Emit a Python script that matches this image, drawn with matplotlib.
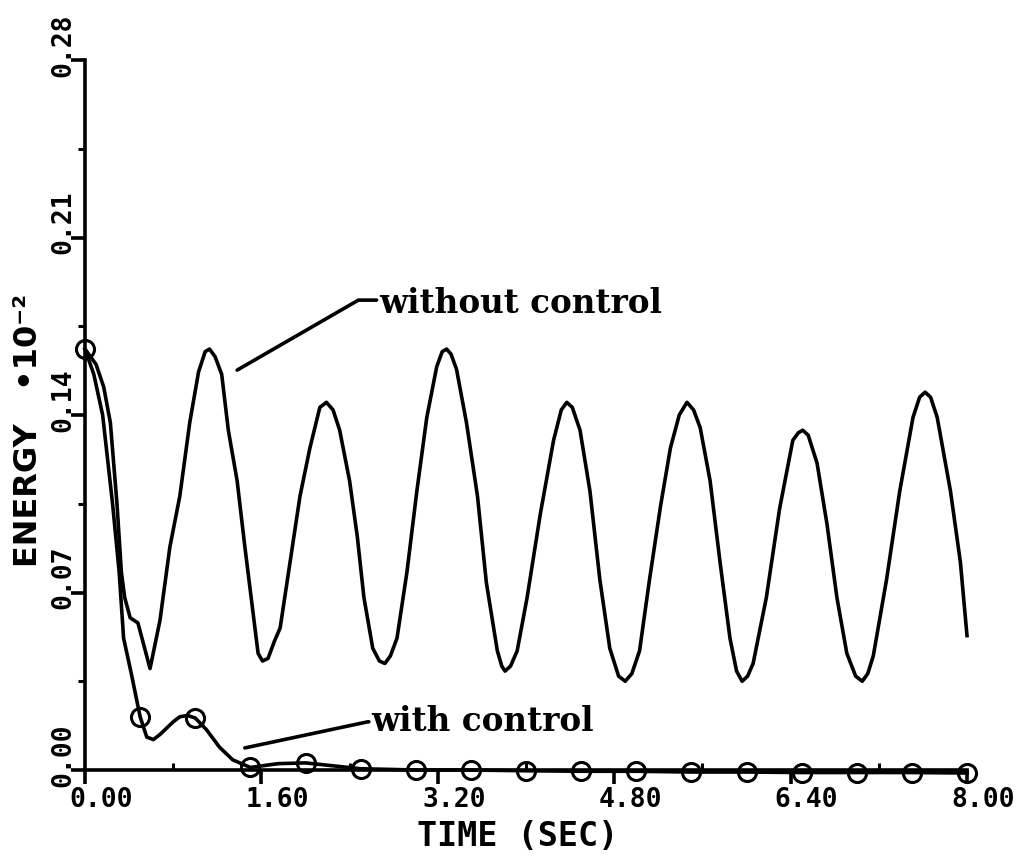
import matplotlib
matplotlib.use("Agg")
import matplotlib.pyplot as plt
import matplotlib.transforms as mtransforms

# ---- data -------------------------------------------------------------
# response without control (time in s, energy * 1e-2)
t_free = [0.00, 0.10, 0.17, 0.23, 0.29, 0.33, 0.36, 0.41, 0.48, 0.59,
          0.68, 0.77, 0.86, 0.95, 1.03, 1.09, 1.13, 1.18, 1.24, 1.30,
          1.38, 1.45, 1.53, 1.57, 1.61, 1.66, 1.72, 1.77, 1.86, 1.95,
          2.04, 2.13, 2.19, 2.25, 2.31, 2.40, 2.47, 2.53, 2.61, 2.67,
          2.72, 2.77, 2.83, 2.92, 3.01, 3.10, 3.19, 3.24, 3.28, 3.32,
          3.37, 3.46, 3.56, 3.64, 3.74, 3.78, 3.81, 3.86, 3.92, 4.01,
          4.13, 4.25, 4.32, 4.37, 4.42, 4.49, 4.58, 4.67, 4.76, 4.84,
          4.90, 4.96, 5.03, 5.12, 5.22, 5.31, 5.39, 5.46, 5.52, 5.58,
          5.67, 5.76, 5.85, 5.91, 5.96, 6.01, 6.06, 6.18, 6.30, 6.42,
          6.47, 6.51, 6.56, 6.64, 6.73, 6.82, 6.91, 6.99, 7.05, 7.10,
          7.15, 7.27, 7.39, 7.51, 7.57, 7.62, 7.67, 7.73, 7.85, 7.94,
          8.00]
e_free = [0.166, 0.160, 0.151, 0.137, 0.105, 0.078, 0.068, 0.060, 0.058, 0.040,
          0.059, 0.088, 0.108, 0.137, 0.157, 0.165, 0.166, 0.163, 0.156, 0.134,
          0.114, 0.088, 0.060, 0.046, 0.043, 0.044, 0.051, 0.056, 0.082, 0.108,
          0.127, 0.143, 0.145, 0.142, 0.134, 0.114, 0.092, 0.068, 0.048, 0.043,
          0.042, 0.045, 0.052, 0.078, 0.110, 0.139, 0.159, 0.165, 0.166, 0.164,
          0.158, 0.137, 0.108, 0.074, 0.047, 0.041, 0.039, 0.041, 0.047, 0.068,
          0.101, 0.130, 0.142, 0.145, 0.143, 0.134, 0.110, 0.075, 0.048, 0.037,
          0.035, 0.038, 0.047, 0.075, 0.104, 0.127, 0.140, 0.145, 0.142, 0.135,
          0.114, 0.082, 0.052, 0.039, 0.035, 0.037, 0.042, 0.068, 0.103, 0.130,
          0.133, 0.134, 0.132, 0.121, 0.097, 0.068, 0.046, 0.037, 0.035, 0.038,
          0.045, 0.075, 0.110, 0.139, 0.147, 0.149, 0.147, 0.139, 0.110, 0.082,
          0.053]

# response with control
t_ctrl = [0.00, 0.08, 0.16, 0.25, 0.31, 0.35, 0.42, 0.50, 0.56, 0.62,
          0.68, 0.74, 0.80, 0.86, 0.93, 1.00, 1.10, 1.22, 1.34, 1.50,
          1.75, 2.00, 2.50, 3.00, 3.50, 4.00, 4.50, 5.00, 5.50, 6.00,
          6.50, 7.00, 7.50, 8.00]
e_ctrl = [0.166, 0.156, 0.140, 0.105, 0.078, 0.052, 0.038, 0.021, 0.013, 0.012,
          0.014, 0.0165, 0.019, 0.021, 0.0215, 0.0205, 0.016, 0.009, 0.004, 0.001,
          0.0025, 0.0028, 0.0005, 0.0, 0.0, -0.0003, -0.0005, -0.0005, -0.0008, -0.0008,
          -0.001, -0.001, -0.001, -0.0012]

x_ticks = [0.0, 1.6, 3.2, 4.8, 6.4, 8.0]
x_tick_labels = ["0.00", "1.60", "3.20", "4.80", "6.40", "8.00"]
y_ticks = [0.0, 0.07, 0.14, 0.21, 0.28]
y_tick_labels = ["0.00", "0.07", "0.14", "0.21", "0.28"]

# ---- figure -----------------------------------------------------------
W, H, DPI = 1029, 860, 100
fig = plt.figure(figsize=(W / DPI, H / DPI), dpi=DPI)
ax = fig.add_axes([85 / W, (H - 770) / H, 882 / W, 710 / H])

LW = 2.6
ax.plot(t_free, e_free, color="black", lw=LW, solid_joinstyle="round",
        clip_on=False)
mark_idx = [i for i, t in enumerate(t_ctrl) if abs(t * 2 - round(t * 2)) < 1e-9]
ax.plot(t_ctrl, e_ctrl, color="black", lw=LW, solid_joinstyle="round",
        marker="o", markevery=mark_idx, markersize=13, fillstyle="none",
        markeredgewidth=2.2, clip_on=False)

ax.set_xlim(0, 8)
ax.set_ylim(0, 0.28)

for side in ("top", "right"):
    ax.spines[side].set_visible(False)
for side in ("left", "bottom"):
    ax.spines[side].set_linewidth(2.6)

tick_font = dict(family=["DejaVu Sans Mono", "DejaVu Sans"], size=19,
                 weight="bold")

ax.set_xticks(x_ticks)
ax.set_xticklabels(x_tick_labels, **tick_font)
ax.set_xticks([0.8, 2.4, 4.0, 5.6, 7.2], minor=True)
ax.tick_params(axis="x", which="major", direction="out", length=10,
               width=2.6, pad=2)
ax.tick_params(axis="x", which="minor", direction="in", length=5, width=2.2)

ax.set_yticks(y_ticks)
ax.set_yticklabels(y_tick_labels, rotation=90, va="center", **tick_font)
ax.set_yticks([0.035, 0.105, 0.175, 0.245], minor=True)
ax.tick_params(axis="y", which="major", direction="out", length=10,
               width=2.6, pad=1)
ax.tick_params(axis="y", which="minor", direction="out", length=5, width=2.2)

# plotter-style label offsets
dx = mtransforms.ScaledTranslation(16 / DPI, 0, fig.dpi_scale_trans)
for lab in ax.get_xticklabels():
    lab.set_transform(lab.get_transform() + dx)
dy = mtransforms.ScaledTranslation(7 / DPI, 15 / DPI, fig.dpi_scale_trans)
for lab in ax.get_yticklabels():
    lab.set_transform(lab.get_transform() + dy)

ax.text(-0.064, 0.478, "ENERGY   \u202210\u207b\u00b2", transform=ax.transAxes,
        rotation=90, ha="center", va="center", size=23,
        family=["DejaVu Sans"], weight="bold")
ax.text(0.49, -0.093, "TIME (SEC)", transform=ax.transAxes,
        ha="center", va="center", size=24,
        family=["DejaVu Sans Mono", "DejaVu Sans"], weight="bold")

# curve annotations
note_font = dict(family=["DejaVu Serif"], weight="bold", size=23.5)
ax.annotate("without control", xy=(1.38, 0.1577), xytext=(2.67, 0.184),
            ha="left", va="center", **note_font,
            arrowprops=dict(arrowstyle="-", lw=2.6, color="black",
                            relpos=(0, 0.6), shrinkA=0, shrinkB=0,
                            connectionstyle="angle,angleA=0,angleB=30,rad=0"))
ax.annotate("with control", xy=(1.45, 0.0087), xytext=(2.60, 0.019),
            ha="left", va="center", **note_font,
            arrowprops=dict(arrowstyle="-", lw=2.6, color="black",
                            relpos=(0, 0.5), shrinkA=0, shrinkB=0,
                            connectionstyle="angle,angleA=0,angleB=12,rad=0"))

fig.savefig("out.png", dpi=DPI)
